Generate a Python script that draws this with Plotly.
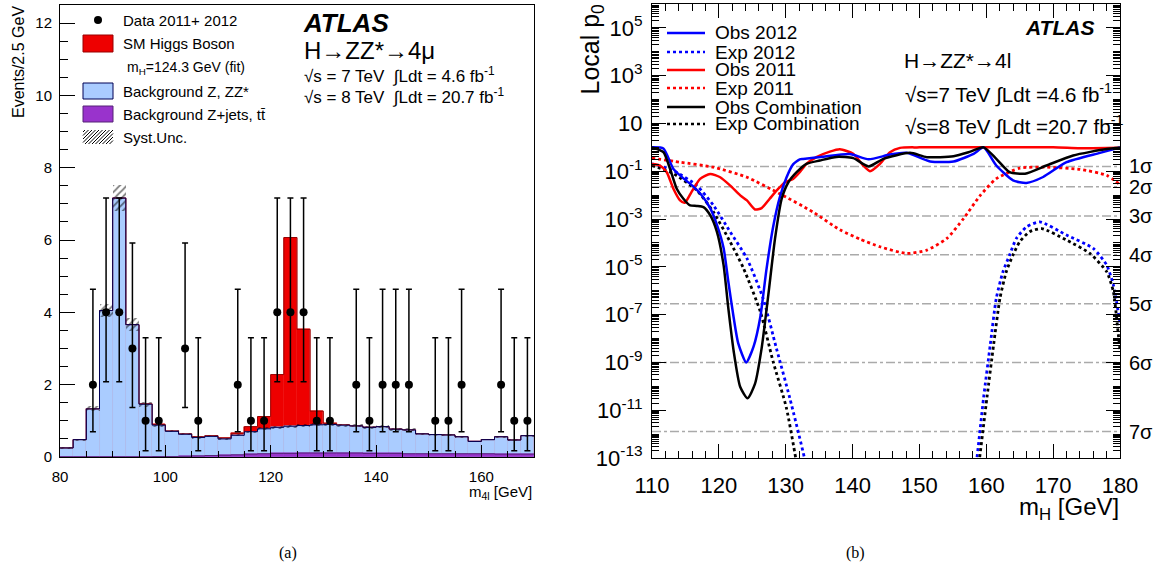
import math
import numpy as np
import plotly.graph_objects as go

W, H = 1157, 577
FONT = "Liberation Sans, Arial, sans-serif"

# ---------------- Panel (a): m4l distribution ----------------
bin_start = 80.0
bin_width = 2.5
bkg_total = [0.25, 0.48, 1.33, 4.05, 7.16, 3.66, 1.46, 0.88, 0.71, 0.63,
             0.54, 0.57, 0.50, 0.60, 0.70, 0.78, 0.82, 0.85, 0.87, 0.89,
             0.90, 0.88, 0.86, 0.82, 0.84, 0.77, 0.75, 0.64, 0.62, 0.61,
             0.56, 0.43, 0.48, 0.56, 0.47, 0.59]
higgs_sig = [0, 0, 0, 0, 0, 0, 0.01, 0.02, 0.01, 0.01,
             0.02, 0.02, 0.03, 0.06, 0.14, 0.34, 1.46, 5.22, 2.66, 0.38,
             0.03, 0.01, 0, 0, 0, 0, 0, 0, 0, 0,
             0, 0, 0, 0, 0, 0]
zjets_tt = [0.005, 0.005, 0.005, 0.005, 0.005, 0.005, 0.005, 0.01, 0.01, 0.02,
            0.03, 0.04, 0.05, 0.06, 0.08, 0.09, 0.10, 0.10, 0.11, 0.11,
            0.11, 0.11, 0.11, 0.10, 0.10, 0.10, 0.09, 0.09, 0.09, 0.09,
            0.09, 0.09, 0.09, 0.08, 0.08, 0.08]
syst_unc = [0.02, 0.03, 0.07, 0.19, 0.35, 0.18, 0.07, 0.04, 0.03, 0.03,
            0.03, 0.03, 0.03, 0.03, 0.03, 0.04, 0.04, 0.04, 0.04, 0.04,
            0.04, 0.04, 0.04, 0.04, 0.04, 0.04, 0.04, 0.03, 0.03, 0.03,
            0.03, 0.02, 0.02, 0.03, 0.02, 0.03]

data_mass = [86.25, 88.75, 91.25, 93.75, 96.25, 98.75, 103.75, 106.25, 113.75,
             116.25, 118.75, 121.25, 123.75, 126.25, 128.75, 131.25, 136.25,
             138.75, 141.25, 143.75, 146.25, 151.25, 153.75, 156.25, 163.75,
             166.25, 168.75]
data_events = [2, 4, 4, 3, 1, 1, 3, 1, 2, 1, 1, 4, 4, 4, 1, 1, 2, 1, 2, 2, 2,
               1, 1, 2, 2, 1, 1]
data_err_up = [2.64, 3.16, 3.16, 2.92, 2.30, 2.30, 2.92, 2.30, 2.64, 2.30, 2.30,
               3.16, 3.16, 3.16, 2.30, 2.30, 2.64, 2.30, 2.64, 2.64, 2.64, 2.30,
               2.30, 2.64, 2.64, 2.30, 2.30]
data_err_dn = [1.30, 1.92, 1.92, 1.63, 0.83, 0.83, 1.63, 0.83, 1.30, 0.83, 0.83,
               1.92, 1.92, 1.92, 0.83, 0.83, 1.30, 0.83, 1.30, 1.30, 1.30, 0.83,
               0.83, 1.30, 1.30, 0.83, 0.83]

# ---------------- Panel (b): local p0 scans (log10 p0) ----------------
obs12_mh = [110, 111.7, 113.2, 114.7, 116.2, 117.4, 118.7, 119.7, 120.7, 121.4,
            122.2, 122.9, 124.1, 125.2, 126.2, 127.1, 128.1, 129.1, 130.1, 131.1,
            132.1, 132.6, 135.6, 139.6, 142.4, 145.6, 148.1, 151.6, 155.1, 158.1,
            159.6, 161.5, 164.0, 166.0, 168.5, 172.0, 177.0, 180.0]
obs12_lp = [0.0, -0.05, -0.9, -1.3, -1.64, -1.99, -2.54, -3.23, -4.2, -5.59,
            -7.1, -8.2, -9.0, -8.33, -7.1, -5.15, -3.35, -2.1, -1.27, -0.71,
            -0.5, -0.49, -0.39, -0.28, -0.5, -0.3, -0.23, -0.59, -0.59, -0.27,
            0.0, -0.76, -1.38, -1.49, -1.24, -0.62, -0.23, 0.0]

exp12_mh = [110, 113.2, 116.7, 119.2, 121.7, 124.2, 126.6, 128.6, 130.6, 132.8, 133.6,
            None,
            158.0, 158.6, 159.6, 160.6, 161.5, 162.5, 163.5, 164.5, 166.0, 168.0,
            172.0, 176.0, 178.0, 179.0, 180.0]
exp12_lp = [-0.69, -0.97, -1.6, -2.43, -3.54, -4.65, -6.31, -8.4, -10.48, -13.0, -14.2,
            None,
            -14.2, -13.0, -10.47, -8.25, -6.31, -5.2, -4.5, -3.81, -3.33, -3.12,
            -3.67, -4.23, -4.92, -5.75, -7.35]

obs11_mh = [110, 111.2, 112.2, 113.2, 114.2, 114.9, 115.9, 117.2, 118.7, 120.2,
            121.7, 123.2, 124.2, 125.4, 126.4, 127.6, 128.9, 129.9, 131.1, 132.1,
            133.1, 134.6, 136.6, 138.1, 140.1, 141.6, 142.6, 144.1, 145.6, 147.1,
            150.0, 170.0, 174.0, 180.0]
obs11_lp = [-0.7, -0.76, -1.04, -1.73, -2.22, -2.32, -1.87, -1.32, -1.11, -1.25,
            -1.6, -2.01, -2.22, -2.6, -2.54, -2.15, -1.73, -1.46, -1.32, -1.04,
            -0.69, -0.41, -0.18, -0.08, -0.27, -0.76, -1.0, -0.69, -0.2, -0.02,
            0.0, 0.0, -0.04, -0.02]

exp11_mh = [110, 114.2, 119.2, 124.2, 129.1, 134.1, 138.1, 141.1, 144.1, 148.1,
            151.1, 154.1, 156.6, 159.1, 161.5, 165.0, 169.0, 174.0, 178.0, 180.0]
exp11_lp = [-0.45, -0.62, -0.83, -1.25, -1.94, -2.71, -3.45, -3.84, -4.16, -4.44,
            -4.3, -3.81, -2.98, -2.01, -1.31, -0.87, -0.83, -0.92, -1.17, -1.56]

obscb_mh = [110, 111.7, 112.7, 113.7, 114.7, 115.7, 116.7, 117.7, 118.7, 119.7,
            120.7, 121.4, 122.2, 123.2, 124.3, 125.4, 126.4, 127.4, 128.4, 129.4,
            130.4, 131.6, 133.1, 135.1, 137.6, 140.1, 142.4, 144.6, 148.6, 151.1,
            155.1, 157.6, 159.6, 161.5, 163.5, 165.8, 169.0, 173.0, 178.0, 180.0]
obscb_lp = [0.0, -0.2, -0.9, -1.73, -2.15, -2.43, -2.45, -2.5, -2.84, -3.53,
            -4.92, -6.7, -8.5, -10.03, -10.5, -9.9, -8.4, -6.17, -3.82, -2.15,
            -1.46, -1.05, -0.69, -0.55, -0.4, -0.45, -0.8, -0.48, -0.23, -0.41,
            -0.37, -0.18, 0.0, -0.48, -1.04, -1.1, -0.76, -0.34, -0.07, -0.02]

expcb_mh = [110, 113.2, 116.7, 119.2, 121.7, 123.7, 126.2, 128.1, 130.1, 131.5, 132.3,
            None,
            158.4, 159.0, 160.1, 161.1, 162.05, 163.0, 164.0, 165.0, 166.5, 168.3,
            172.0, 175.5, 178.0, 179.0, 179.7, 180.0]
expcb_lp = [-0.76, -1.1, -1.8, -2.71, -3.96, -5.07, -6.87, -8.95, -10.9, -13.0, -14.2,
            None,
            -14.2, -13.0, -10.47, -8.25, -6.31, -5.2, -4.5, -3.95, -3.53, -3.4,
            -3.88, -4.44, -5.2, -6.03, -7.7, -8.5]

sigma_labels = ["1σ", "2σ", "3σ", "4σ", "5σ", "6σ", "7σ"]
sigma_p0 = [0.1587, 0.02275, 1.35e-3, 3.17e-5, 2.87e-7, 9.87e-10, 1.28e-12]

# ---------------- helpers ----------------
def px(x):
    return x / W


def py(y):
    return 1 - y / H


def to_p(lp):
    return [None if v is None else 10 ** v for v in lp]


edges = bin_start + bin_width * np.arange(len(bkg_total) + 1)
centers = edges[:-1] + bin_width / 2
tot = np.array(bkg_total) + np.array(higgs_sig)


def step_y(vals):
    v = list(vals)
    return v + [v[-1]]


RED = "#ee0000"
RED_LINE = "#990000"
LBLUE = "#aaccff"
BLUE_LINE = "#000055"
PURPLE = "#9933cc"
PURPLE_LINE = "#552277"

fig = go.Figure()

fig.add_trace(go.Bar(x=centers, y=tot, width=bin_width, marker=dict(color=RED, line=dict(color=RED, width=0.5)),
                     xaxis="x", yaxis="y", showlegend=False, hoverinfo="skip"))
fig.add_trace(go.Bar(x=centers, y=bkg_total, width=bin_width, marker=dict(color=LBLUE, line=dict(color=LBLUE, width=0.5)),
                     xaxis="x", yaxis="y", showlegend=False, hoverinfo="skip"))
fig.add_trace(go.Bar(x=centers, y=zjets_tt, width=bin_width, marker=dict(color=PURPLE, line=dict(color=PURPLE, width=0.5)),
                     xaxis="x", yaxis="y", showlegend=False, hoverinfo="skip"))
su = np.array(syst_unc)
fig.add_trace(go.Bar(x=centers, y=2 * su, base=np.array(bkg_total) - su, width=bin_width,
                     marker=dict(color="rgba(0,0,0,0)", line=dict(width=0),
                                 pattern=dict(shape="/", fgcolor="black", bgcolor="rgba(0,0,0,0)",
                                              size=5, solidity=0.35)),
                     xaxis="x", yaxis="y", showlegend=False, hoverinfo="skip"))
fig.add_trace(go.Scatter(x=edges, y=step_y(tot), mode="lines", line=dict(shape="hv", color=RED_LINE, width=1),
                         xaxis="x", yaxis="y", showlegend=False, hoverinfo="skip"))
fig.add_trace(go.Scatter(x=edges, y=step_y(bkg_total), mode="lines", line=dict(shape="hv", color=BLUE_LINE, width=1),
                         xaxis="x", yaxis="y", showlegend=False, hoverinfo="skip"))
fig.add_trace(go.Scatter(x=edges, y=step_y(zjets_tt), mode="lines", line=dict(shape="hv", color=PURPLE_LINE, width=1),
                         xaxis="x", yaxis="y", showlegend=False, hoverinfo="skip"))
fig.add_trace(go.Scatter(x=data_mass, y=data_events, mode="markers",
                         marker=dict(color="black", size=8, symbol="circle"),
                         error_y=dict(type="data", symmetric=False, array=data_err_up, arrayminus=data_err_dn,
                                      color="black", thickness=1.5, width=3),
                         xaxis="x", yaxis="y", showlegend=False))

for p in sigma_p0:
    fig.add_trace(go.Scatter(x=[110, 180], y=[p, p], mode="lines",
                             line=dict(color="#aaaaaa", width=1.5, dash="dashdot"),
                             xaxis="x2", yaxis="y2", showlegend=False, hoverinfo="skip"))

curves = [
    (exp11_mh, exp11_lp, "red", "dot"),
    (exp12_mh, exp12_lp, "blue", "dot"),
    (expcb_mh, expcb_lp, "black", "dot"),
    (obs11_mh, obs11_lp, "red", "solid"),
    (obs12_mh, obs12_lp, "blue", "solid"),
    (obscb_mh, obscb_lp, "black", "solid"),
]
for mh, lp, col, dash in curves:
    fig.add_trace(go.Scatter(x=mh, y=to_p(lp), mode="lines", connectgaps=False,
                             line=dict(color=col, width=2.5 if dash == "solid" else 2.8, dash=dash,
                                       shape="spline", smoothing=0.6),
                             xaxis="x2", yaxis="y2", showlegend=False, hoverinfo="skip"))

log_major = list(range(-13, 6, 2))
log_ticktext = ["10" if e == 1 else "10<sup>%d</sup>" % e for e in log_major]
log_minor = [k * 10.0 ** e for e in range(-13, 6) for k in range(1, 10)]

axis_common = dict(showgrid=False, zeroline=False, showline=True, linecolor="black", linewidth=1,
                   ticks="inside", tickcolor="black", tickwidth=1, automargin=False)

fig.update_layout(
    width=W, height=H, autosize=False,
    margin=dict(l=0, r=0, t=0, b=0, pad=0, autoexpand=False),
    paper_bgcolor="white", plot_bgcolor="white",
    barmode="overlay", bargap=0, showlegend=False,
    font=dict(family=FONT, color="black"),
    xaxis=dict(domain=[px(60), px(534)], range=[80, 170], anchor="y",
               tickvals=[80, 100, 120, 140, 160], ticklen=12, mirror=True,
               minor=dict(dtick=5, tick0=80, ticks="inside", ticklen=6, tickcolor="black"),
               tickfont=dict(size=15, family=FONT), ticklabelstandoff=6, **axis_common),
    yaxis=dict(domain=[py(457), py(5)], range=[0, 12.5], anchor="x",
               tick0=0, dtick=2, ticklen=15, mirror=True,
               minor=dict(dtick=0.5, tick0=0, ticks="inside", ticklen=8, tickcolor="black"),
               tickfont=dict(size=15, family=FONT), ticklabelstandoff=4, **axis_common),
    xaxis2=dict(domain=[px(652), px(1120)], range=[110, 180], anchor="y2",
                tick0=110, dtick=10, ticklen=14, mirror="ticks",
                minor=dict(dtick=2, tick0=110, ticks="inside", ticklen=7, tickcolor="black"),
                tickfont=dict(size=22, family=FONT), ticklabelstandoff=8, **axis_common),
    yaxis2=dict(domain=[py(458), py(4)], type="log", range=[-13, 6], anchor="x2",
                tickmode="array", tickvals=[10.0 ** e for e in log_major], ticktext=log_ticktext,
                ticklen=14, mirror="ticks",
                minor=dict(tickmode="array", tickvals=log_minor, ticks="inside", ticklen=7, tickcolor="black"),
                tickfont=dict(size=22, family=FONT), ticklabelstandoff=4, **axis_common),
)

ann = []
shapes = []


def text(x, y, s, size, xanchor="left", yanchor="middle", family=FONT, angle=0):
    ann.append(dict(x=px(x), y=py(y), xref="paper", yref="paper", text=s, showarrow=False,
                    xanchor=xanchor, yanchor=yanchor, textangle=angle,
                    font=dict(size=size, family=family, color="black")))


text(18, 4, "Events/2.5 GeV", 16, xanchor="center", yanchor="top", angle=-90)
text(534, 492, "m<sub>4l</sub> [GeV]", 15, xanchor="right")
text(592, 2, "Local p<sub>0</sub>", 25, xanchor="center", yanchor="top", angle=-90)
text(1121, 508, "m<sub>H</sub> [GeV]", 24, xanchor="right")
text(288, 553, "(a)", 16, xanchor="center", family="Liberation Serif, Times New Roman, serif")
text(855, 553, "(b)", 16, xanchor="center", family="Liberation Serif, Times New Roman, serif")

text(301, 23, "<b><i>ATLAS</i></b>", 26)
text(302, 50, "H→ZZ*→4μ", 24)
text(302, 75, "√s = 7 TeV  ∫Ldt = 4.6 fb<sup>-1</sup>", 17)
text(302, 96, "√s = 8 TeV  ∫Ldt = 20.7 fb<sup>-1</sup>", 17)

shapes.append(dict(type="circle", xref="paper", yref="paper", x0=px(94), x1=px(102), y0=py(24), y1=py(16),
                   fillcolor="black", line=dict(color="black", width=0)))
text(121, 20, "Data 2011+ 2012", 15)
shapes.append(dict(type="rect", xref="paper", yref="paper", x0=px(83), x1=px(113), y0=py(52), y1=py(35),
                   fillcolor=RED, line=dict(color=RED_LINE, width=1)))
text(121, 43, "SM Higgs Boson", 15)
text(125, 68, "m<sub>H</sub>=124.3 GeV (fit)", 14)
shapes.append(dict(type="rect", xref="paper", yref="paper", x0=px(83), x1=px(113), y0=py(99), y1=py(83),
                   fillcolor=LBLUE, line=dict(color=BLUE_LINE, width=1)))
text(121, 91, "Background Z, ZZ*", 15)
shapes.append(dict(type="rect", xref="paper", yref="paper", x0=px(83), x1=px(113), y0=py(122), y1=py(106),
                   fillcolor=PURPLE, line=dict(color=PURPLE_LINE, width=1)))
text(121, 114, "Background Z+jets, t\u0074\u0304", 15)
hx0, hx1, hy0, hy1 = 83, 113, 130, 144
hh = hy1 - hy0
k = hx0 - hh + 2
while k < hx1:
    xs, ys, xe, ye = k, hy1, k + hh, hy0
    if xs < hx0:
        ys = hy1 - (hx0 - xs)
        xs = hx0
    if xe > hx1:
        ye = hy0 + (xe - hx1)
        xe = hx1
    shapes.append(dict(type="line", xref="paper", yref="paper", x0=px(xs), y0=py(ys), x1=px(xe), y1=py(ye),
                       line=dict(color="black", width=1)))
    k += 3.5
text(121, 137, "Syst.Unc.", 15)

text(1096, 27, "<b><i>ATLAS</i></b>", 21, xanchor="right")
text(902, 60, "H→ZZ*→4l", 21)
text(903, 94, "√s=7 TeV ∫Ldt =4.6 fb<sup>-1</sup>", 20.5)
text(903, 126, "√s=8 TeV ∫Ldt =20.7 fb<sup>-1</sup>", 20.5)

leg_items = [("Obs 2012", "blue", "solid"), ("Exp 2012", "blue", "dot"),
             ("Obs 2011", "red", "solid"), ("Exp 2011", "red", "dot"),
             ("Obs Combination", "black", "solid"), ("Exp Combination", "black", "dot")]
leg_rows = [33, 52, 70, 88, 107, 124]
for (name, col, dash), yy in zip(leg_items, leg_rows):
    shapes.append(dict(type="line", xref="paper", yref="paper", x0=px(667), x1=px(705), y0=py(yy), y1=py(yy),
                       line=dict(color=col, width=2.5, dash=dash)))
    text(713, yy, name, 19)

for lab, p in zip(sigma_labels, sigma_p0):
    ann.append(dict(x=px(1127), y=math.log10(p), xref="paper", yref="y2", text=lab, showarrow=False,
                    xanchor="left", yanchor="middle", font=dict(size=20, family=FONT, color="black")))

fig.update_layout(annotations=ann, shapes=shapes)

post = "document.body.style.margin='0';"
fig.write_html("out.html", config={"displayModeBar": False}, post_script=post)
